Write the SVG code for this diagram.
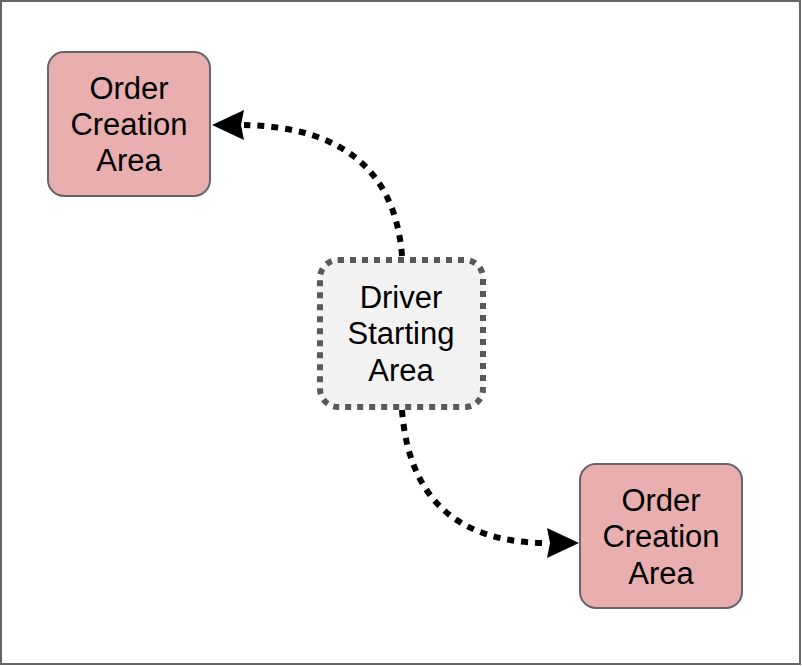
<svg xmlns="http://www.w3.org/2000/svg" width="802" height="666" viewBox="0 0 802 666">
<style>
.order{fill:#e9afaf;stroke:#666666;stroke-width:2}
.driver{fill:#f2f2f2;stroke:#595959;stroke-width:6;stroke-dasharray:6 6}
.lbl{font-family:"Liberation Sans",Arial,sans-serif;font-size:31px;fill:#000;text-anchor:middle}
.edge{fill:none;stroke:#000;stroke-width:6;stroke-dasharray:7 7}
.head{fill:#000}
</style>
<rect x="1" y="1" width="799" height="663" fill="#ffffff" stroke="#666666" stroke-width="2"/>
<g id="connectors">
<path class="edge" d="M 402 256 Q 392 128 244 125"/>
<path class="head" d="M 212 125 L 244 110 L 241 125 L 244 140 Z"/>
<path class="edge" d="M 402 410 Q 412 543 548 543"/>
<path class="head" d="M 579 543 L 547 558 L 550 543 L 547 528 Z"/>
</g>
<g id="order-top">
<rect class="order" x="48" y="52" width="162" height="144" rx="16"/>
<text class="lbl" x="129" y="99">Order</text>
<text class="lbl" x="129" y="135">Creation</text>
<text class="lbl" x="129" y="171">Area</text>
</g>
<g id="driver">
<rect class="driver" x="320" y="260" width="163" height="147" rx="18"/>
<text class="lbl" x="401" y="308">Driver</text>
<text class="lbl" x="401" y="344">Starting</text>
<text class="lbl" x="401" y="381">Area</text>
</g>
<g id="order-bottom">
<rect class="order" x="580" y="464" width="162" height="144" rx="16"/>
<text class="lbl" x="661" y="511">Order</text>
<text class="lbl" x="661" y="547">Creation</text>
<text class="lbl" x="661" y="584">Area</text>
</g>
</svg>
